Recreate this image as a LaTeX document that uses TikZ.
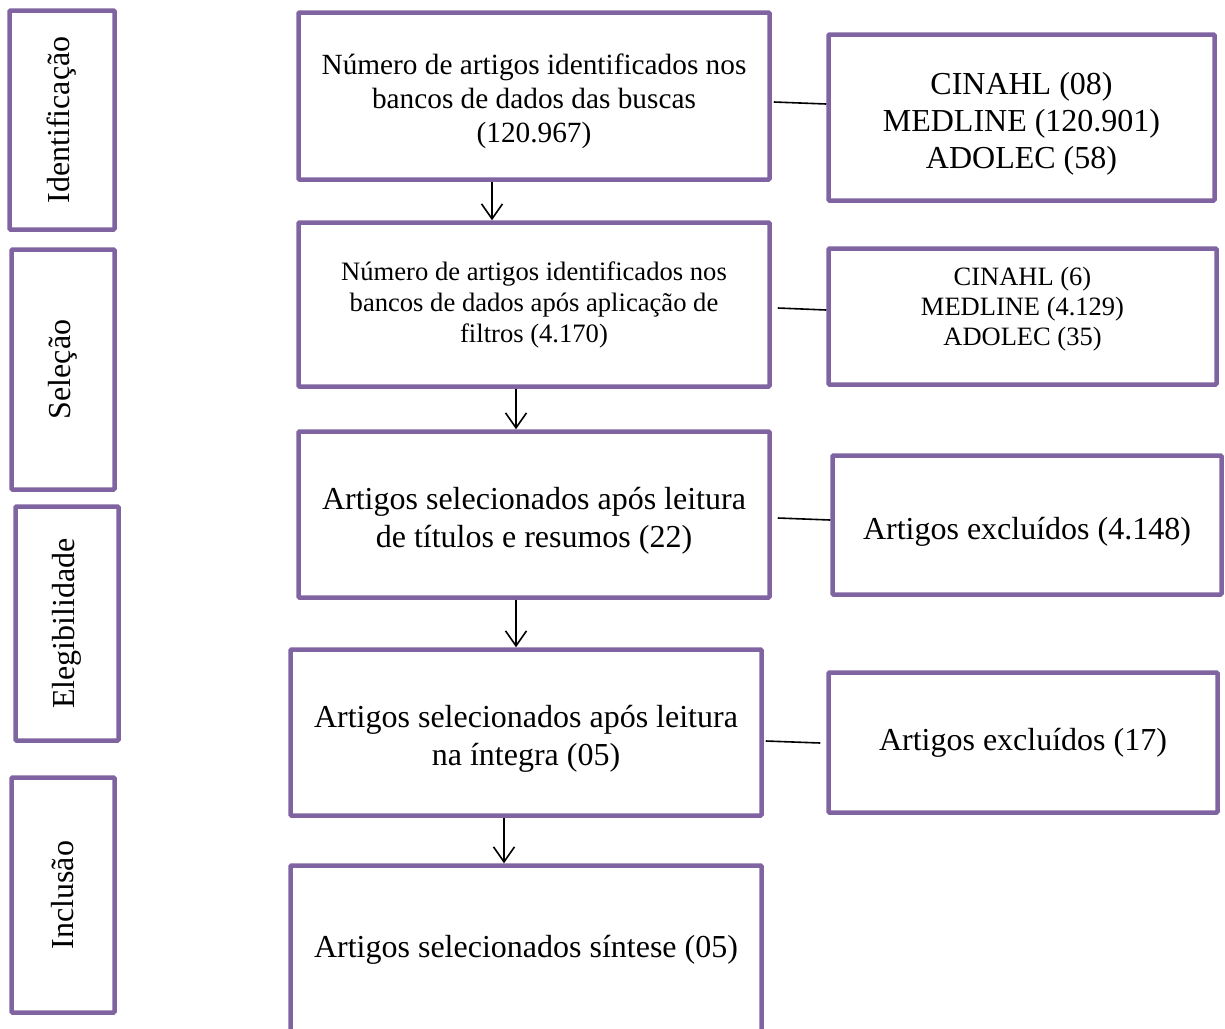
\documentclass[tikz,border=0pt]{standalone}
\usepackage{fontspec}
\setmainfont{Liberation Serif}
\usetikzlibrary{arrows.meta}

\definecolor{roxo}{RGB}{128,100,162}
\newcommand{\folga}{\rule{0pt}{1.1em}}
\newcommand{\rebaixo}{\rule[-21pt]{0pt}{1pt}}

\tikzset{
  borda/.style={draw=roxo, line width=4.5pt, rounded corners=1pt, align=center,
    inner sep=0pt, font=\fontsize{32}{38}\selectfont},
  caixa/.style={borda},
  etapa/.style={borda, rotate=90},
  seta/.style={line width=1.6pt, -{Straight Barb[length=15pt,width=21pt,line width=1.6pt]}},
  liga/.style={line width=1.6pt}
}

\begin{document}
\begin{tikzpicture}[x=1pt,y=-1pt]
    \useasboundingbox (0,0) rectangle (1225,1028);

    % Etapas (coluna da esquerda)
    \node (ident) at (62,120) [etapa, minimum width=219pt, minimum height=105pt] {Identificação};
    \node (selec) at (63,369.5) [etapa, minimum width=240pt, minimum height=103pt] {Seleção};
    \node (eleg) at (67,623.5) [etapa, minimum width=234pt, minimum height=103pt] {Elegibilidade};
    \node (incl) at (63,895) [etapa, minimum width=235pt, minimum height=103pt] {Inclusão};

    % Fluxo principal
    \node (busca) at (534,96) [caixa, minimum width=471pt, minimum height=167pt,
      font=\fontsize{29.3}{34}\selectfont]
      {\folga Número de artigos identificados nos\\bancos de dados das buscas\\(120.967)};
    \node (filtro) at (534,304.5) [caixa, minimum width=471pt, minimum height=164pt,
      font=\fontsize{26.6}{31}\selectfont]
      {Número de artigos identificados nos\\bancos de dados após aplicação de\\filtros (4.170)};
    \node (titulo) at (534,514.5) [caixa, minimum width=471pt, minimum height=166pt]
      {\folga Artigos selecionados após leitura\\de títulos e resumos (22)};
    \node (integra) at (526,732.5) [caixa, minimum width=471pt, minimum height=166pt]
      {\folga Artigos selecionados após leitura\\na íntegra (05)};
    \node (sintese) at (526,950) [caixa, minimum width=471pt, minimum height=169pt]
      {Artigos selecionados síntese (05)};

    % Caixas da direita
    \node (bases) at (1021.5,117.5) [caixa, minimum width=386pt, minimum height=166pt,
      font=\fontsize{32}{37}\selectfont]
      {\folga CINAHL (08)\\MEDLINE (120.901)\\ADOLEC (58)};
    \node (basesf) at (1022.5,316.5) [caixa, minimum width=388pt, minimum height=136pt,
      font=\fontsize{26.5}{30}\selectfont]
      {CINAHL (6)\\MEDLINE (4.129)\\ADOLEC (35)\rebaixo};
    \node (excl1) at (1027,525) [caixa, minimum width=389pt, minimum height=139pt]
      {\folga Artigos excluídos (4.148)};
    \node (excl2) at (1023,742.5) [caixa, minimum width=389pt, minimum height=140pt]
      {Artigos excluídos (17)};

    % Setas
    \draw[seta] ([xshift=-42pt]busca.south) -- ([xshift=-42pt]busca.south |- filtro.north);
    \draw[seta] ([xshift=-18pt]filtro.south) -- ([xshift=-18pt]filtro.south |- titulo.north);
    \draw[seta] ([xshift=-18pt]titulo.south) -- ([xshift=-10pt]integra.north);
    \draw[seta] ([xshift=-22pt]integra.south) -- ([xshift=-22pt]sintese.north);

    % Ligações
    \draw[liga] ([xshift=2pt]busca.east |- 0,102) -- (bases.west |- 0,104);
    \draw[liga] ([xshift=6pt]filtro.east |- 0,308) -- (basesf.west |- 0,310);
    \draw[liga] ([xshift=6pt]titulo.east |- 0,518) -- (excl1.west |- 0,520);
    \draw[liga] ([xshift=2pt]integra.east |- 0,741) -- ([xshift=-6pt]excl2.west |- 0,743);
\end{tikzpicture}
\end{document}
